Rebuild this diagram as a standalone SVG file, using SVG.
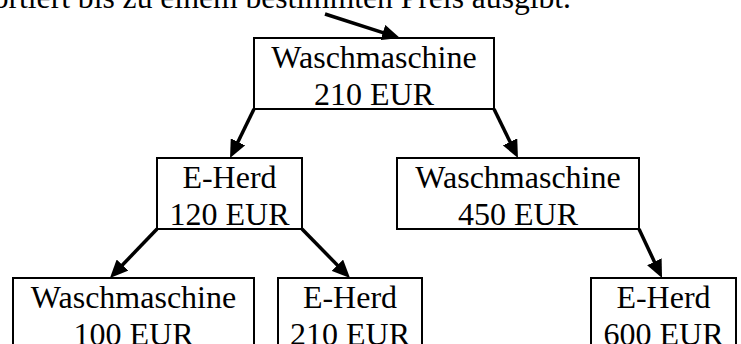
<svg xmlns="http://www.w3.org/2000/svg" width="741" height="344" viewBox="0 0 741 344">
<defs>
<style>
.box{fill:#fff;stroke:#000;stroke-width:2}
.t{font-family:"Liberation Serif","Times New Roman",serif;font-size:32px;fill:#000;text-anchor:middle}
.c{stroke:#000;stroke-width:3.5;fill:none;marker-end:url(#ah)}
</style>
<marker id="ah" viewBox="0 0 18 16" refX="9" refY="8" markerWidth="18" markerHeight="16" markerUnits="userSpaceOnUse" orient="auto">
<path d="M0,0 L18,8 L0,16 z" fill="#000"/>
</marker>
</defs>
<rect width="741" height="344" fill="#fff"/>
<text class="t" x="571" y="8" style="text-anchor:end;font-size:31.6px">ortiert bis zu einem bestimmten Preis ausgibt.</text>
<g id="n1"><rect class="box" x="254" y="38" width="240" height="71"/><text class="t" x="374" y="68">Waschmaschine</text><text class="t" x="374" y="105">210 EUR</text></g>
<g id="n2"><rect class="box" x="157" y="158" width="145" height="71"/><text class="t" x="229.5" y="188">E-Herd</text><text class="t" x="229.5" y="225">120 EUR</text></g>
<g id="n3"><rect class="box" x="397" y="158" width="242" height="71"/><text class="t" x="518" y="188">Waschmaschine</text><text class="t" x="518" y="225">450 EUR</text></g>
<g id="n4"><rect class="box" x="13" y="278" width="241" height="71"/><text class="t" x="133.5" y="308">Waschmaschine</text><text class="t" x="133.5" y="345">100 EUR</text></g>
<g id="n5"><rect class="box" x="278" y="278" width="144" height="71"/><text class="t" x="350" y="308">E-Herd</text><text class="t" x="350" y="345">210 EUR</text></g>
<g id="n6"><rect class="box" x="591" y="278" width="145" height="71"/><text class="t" x="663.5" y="308">E-Herd</text><text class="t" x="663.5" y="345">600 EUR</text></g>
<g id="connectors">
<line class="c" x1="325" y1="14" x2="391.4" y2="35.3"/>
<line class="c" x1="254" y1="109" x2="234" y2="149.9"/>
<line class="c" x1="494" y1="109" x2="514" y2="149.9"/>
<line class="c" x1="157" y1="229" x2="116.2" y2="271.5"/>
<line class="c" x1="302" y1="229" x2="343.7" y2="271.6"/>
<line class="c" x1="639" y1="229" x2="658.2" y2="269.9"/>
</g>
</svg>
